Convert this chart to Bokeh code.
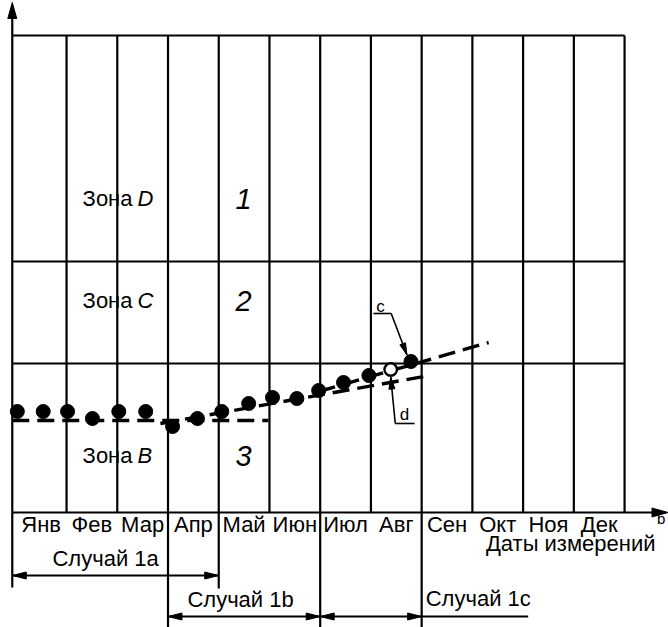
import math
from bokeh.plotting import figure
from bokeh.models import Range1d
from bokeh.core.properties import value
from bokeh.embed import file_html
from bokeh.resources import INLINE

# ---------------- data ----------------
months = ["Янв", "Фев", "Мар", "Апр", "Май", "Июн",
          "Июл", "Авг", "Сен", "Окт", "Ноя", "Дек"]
# measurement times (in months from the start of January) and levels
meas_t = [0.03, 0.54, 1.02, 1.51, 2.03, 2.56, 3.09, 3.58, 4.06,
          4.59, 5.06, 5.54, 5.97, 6.46, 6.96, 7.39, 7.79]
meas_v = [10.1, 10.1, 10.1, 9.4, 10.1, 10.1, 8.6, 9.4, 10.1,
          10.9, 11.5, 11.4, 12.2, 13.0, 13.7, 14.3, 15.1]
open_idx = 15          # point "d"
# zone boundaries (levels)
zone_bounds = [0.0, 14.9, 25.1, 47.7]
zone_names = ["B", "C", "D"]
zone_numbers = ["3", "2", "1"]
# trend lines (start/end times and levels)
trend_1a_t = [-0.07, 4.98]
trend_1a_v = [9.2, 9.2]
trend_1b_t = [2.85, 8.04]
trend_1b_v = [8.9, 13.6]
trend_1c_t = [5.97, 9.32]
trend_1c_v = [12.1, 17.0]
# case periods (start month, end month)
case_labels = ["Случай 1a", "Случай 1b", "Случай 1c"]
case_start = [-0.07, 3, 6]
case_end = [4, 6, 8]
axis_title = "Даты измерений"

# ---------------- figure ----------------
W, H = 668, 627
X0, X1 = -0.302, 12.866
Y0, Y1 = -11.5, 51.2
SX = W / (X1 - X0)
SY = H / (Y1 - Y0)

p = figure(width=W, height=H, x_range=Range1d(X0, X1), y_range=Range1d(Y0, Y1),
           output_backend="svg", toolbar_location=None,
           min_border=0, min_border_left=0, min_border_right=0,
           min_border_top=0, min_border_bottom=0)
p.axis.visible = False
p.grid.visible = False
p.outline_line_color = None
p.background_fill_color = "white"

FONT = value("Liberation Sans")
FS = "22px"
LW = 2.2
xl = -0.07            # position of the vertical axis
ymax = zone_bounds[-1]

# grid: vertical lines at month boundaries
p.segment(x0=list(range(1, 13)), y0=[0] * 12, x1=list(range(1, 13)), y1=[ymax] * 12,
          line_color="black", line_width=LW)
# horizontal zone boundaries
p.segment(x0=[xl] * 3, y0=zone_bounds[1:], x1=[12] * 3, y1=zone_bounds[1:],
          line_color="black", line_width=LW)
# axes
p.segment(x0=[xl], y0=[0], x1=[X1 - 0.05], y1=[0], line_color="black", line_width=LW)
p.segment(x0=[xl], y0=[-7.5], x1=[xl], y1=[Y1 - 0.5], line_color="black", line_width=LW)

# extensions of the period boundaries below the axis
ext_x = [3, 4, 6, 8]
ext_y = [Y0, -7.6, Y0, Y0]
p.segment(x0=ext_x, y0=[0] * 4, x1=ext_x, y1=ext_y, line_color="black", line_width=LW)

heads_x, heads_y = [], []


def head(xt, yt, xf, yf, L=14, Wd=7):
    dx = (xt - xf) * SX
    dy = (yt - yf) * SY
    n = math.hypot(dx, dy)
    ux, uy = dx / n, dy / n
    bx, by = -L * ux, -L * uy
    px_, py_ = -uy * Wd / 2, ux * Wd / 2
    heads_x.append([xt, xt + (bx + px_) / SX, xt + (bx - px_) / SX])
    heads_y.append([yt, yt + (by + py_) / SY, yt + (by - py_) / SY])


# axis arrowheads
head(X1 - 0.01, 0, 0, 0, L=16, Wd=9)
head(xl, Y1 - 0.2, xl, 0, L=16, Wd=9)

# case arrows
case_y = [-6.3, -10.4, -10.4]
for s, e, y in zip(case_start, case_end, case_y):
    p.segment(x0=[s], y0=[y], x1=[e], y1=[y], line_color="black", line_width=LW)
    head(s, y, e, y)
    head(e, y, s, y)
# underline for "Случай 1c"
p.segment(x0=[8], y0=[-10.4], x1=[10.1], y1=[-10.4], line_color="black", line_width=LW)

# trend lines
for tx, tv in [(trend_1a_t, trend_1a_v), (trend_1b_t, trend_1b_v), (trend_1c_t, trend_1c_v)]:
    p.line(tx, tv, line_color="black", line_width=3.4, line_dash="17 8")

# measurement points
fill_t = [t for i, t in enumerate(meas_t) if i != open_idx]
fill_v = [v for i, v in enumerate(meas_v) if i != open_idx]
p.scatter(fill_t, fill_v, size=14, fill_color="black", line_color="black")
p.scatter([meas_t[open_idx]], [meas_v[open_idx]], size=12.5, fill_color="white",
          line_color="black", line_width=2.4)

# annotations c and d
ct, cv = meas_t[-1], meas_v[-1]
dt, dv = meas_t[open_idx], meas_v[open_idx]
p.segment(x0=[7.05, 7.40], y0=[19.9, 19.9], x1=[7.40, ct - 0.08], y1=[19.9, cv + 0.65],
          line_color="black", line_width=1.6)
head(ct - 0.08, cv + 0.65, 7.40, 19.9, L=12, Wd=6)
p.segment(x0=[7.86, 7.48], y0=[8.9, 8.9], x1=[7.48, dt], y1=[8.9, dv - 0.75],
          line_color="black", line_width=1.6)
head(dt, dv - 0.75, 7.48, 8.9, L=12, Wd=6)
p.text(x=[7.19, 7.66], y=[20.6, 9.8], text=["c", "d"], text_font=FONT,
       text_font_size="17px", text_align="center", text_baseline="middle", text_color="black")

p.patches(heads_x, heads_y, fill_color="black", line_color="black", line_width=1)

# month labels
p.text(x=[i + 0.5 for i in range(12)], y=[-1.2] * 12, text=months, text_font=FONT,
       text_font_size=FS, text_align="center", text_baseline="middle", text_color="black")
# axis title
p.text(x=[12.61], y=[-3.1], text=[axis_title], text_font=FONT, text_font_size=FS,
       text_align="right", text_baseline="middle", text_color="black")
p.text(x=[12.64], y=[-0.6], text=["b"], text_font=FONT, text_font_size="15px",
       text_align="left", text_baseline="middle", text_color="black")

# case labels
p.text(x=[1.77, 4.43, 8.08], y=[-4.6, -8.7, -8.6], text=case_labels, text_font=FONT,
       text_font_size=FS, text_align=["center", "center", "left"],
       text_baseline="middle", text_color="black")

# zone labels
zone_y = [5.7, 21.2, 31.4]
p.text(x=[2.30] * 3, y=zone_y, text=["Зона"] * 3, text_font=FONT, text_font_size=FS,
       text_align="right", text_baseline="middle", text_color="black")
p.text(x=[2.40] * 3, y=zone_y, text=zone_names, text_font=FONT, text_font_size=FS,
       text_font_style="italic", text_align="left", text_baseline="middle", text_color="black")
p.text(x=[4.49] * 3, y=zone_y, text=zone_numbers, text_font=FONT, text_font_size="29px",
       text_font_style="italic", text_align="center", text_baseline="middle", text_color="black")

open("out.html", "w").write(file_html(p, INLINE))
